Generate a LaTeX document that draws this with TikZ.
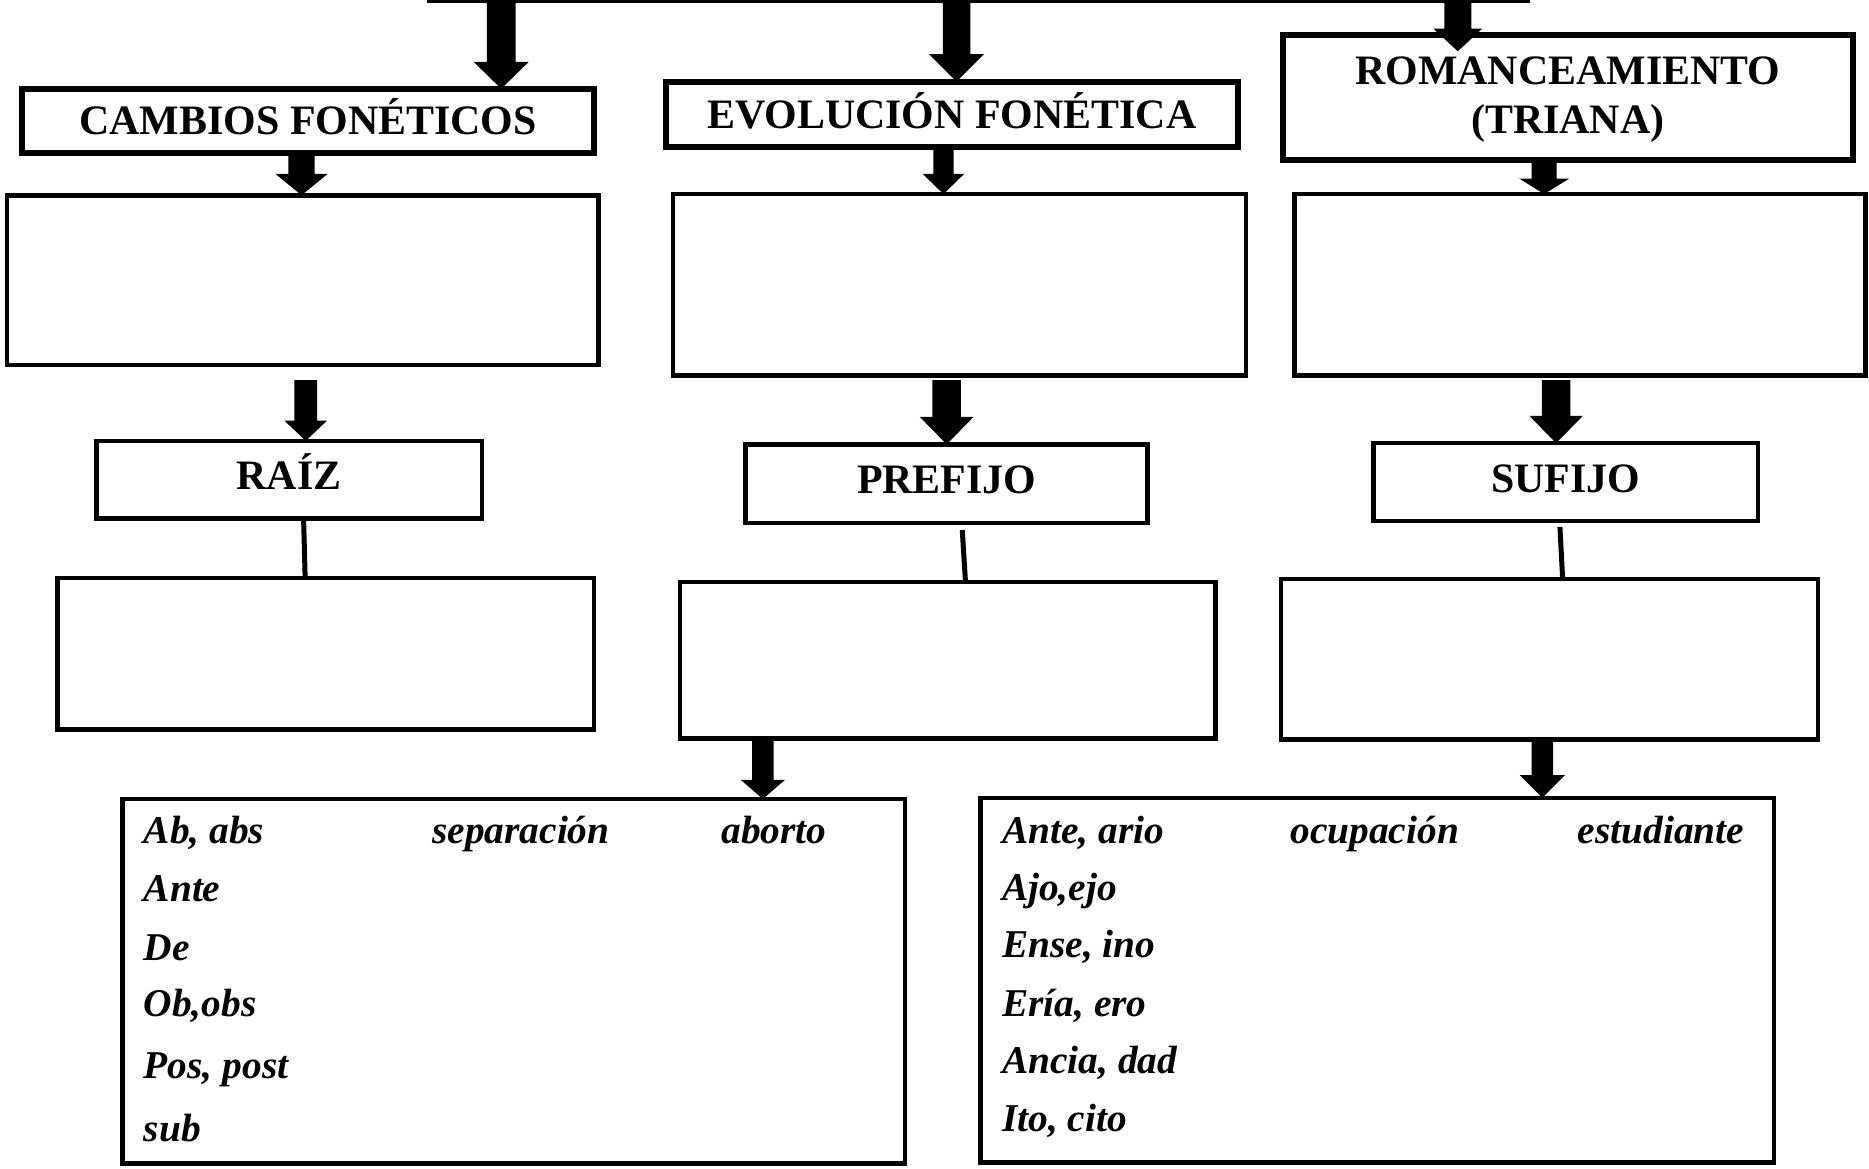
\documentclass[tikz,border=0pt]{standalone}
\usepackage{fontspec}
\setmainfont{Liberation Serif}
\usetikzlibrary{calc}
\tikzset{
  titlebase/.style={draw, line width=0.5mm, inner sep=0pt, outer sep=0pt,
    font=\fontsize{10}{11.7}\selectfont\bfseries},
  title/.style={titlebase, text height=6.6pt, text depth=0pt},
  emptybox/.style={draw, line width=0.38mm, inner sep=0pt, outer sep=0pt},
  labbox/.style={emptybox, font=\fontsize{10}{12}\selectfont\bfseries,
    text height=6.6pt, text depth=1.9pt},
  entry/.style={inner sep=0pt, anchor=base west,
    font=\fontsize{9.4}{11}\selectfont\bfseries\itshape},
  conn/.style={line width=0.42mm},
  topline/.style={line width=0.25mm}
}
% #1 start (only its y is used), #2 tip, #3 shaft half width, #4 head half width, #5 head length
\newcommand\blockarrow[5]{%
  \fill let \p1=(#1), \p2=(#2) in
    (\x2-#3,\y1) -- (\x2+#3,\y1) -- (\x2+#3,\y2+#5) -- (\x2+#4,\y2+#5)
    -- (\x2,\y2) -- (\x2-#4,\y2+#5) -- (\x2-#3,\y2+#5) -- cycle;}
\begin{document}
\begin{tikzpicture}[x=0.1mm, y=-0.1mm]
\useasboundingbox (0,0) rectangle (1568,980);

% top line
\coordinate (tl) at (358,1.2);
\coordinate (tr) at (1284,1.2);
\draw[topline] (tl) -- (tr);

% title boxes
\node[title, minimum width=48mm, minimum height=5.4mm] (cf) at (258.5,101.5) {CAMBIOS FONÉTICOS};
\node[title, minimum width=48mm, minimum height=5.5mm] (ef) at (798.5,96) {EVOLUCIÓN FONÉTICA};
\node[titlebase, align=center, text depth=1pt, minimum width=47.85mm, minimum height=10.45mm] (rt) at (1315.25,81.75) {ROMANCEAMIENTO\\(TRIANA)};

% empty boxes row 1
\node[emptybox, minimum width=49.64mm, minimum height=14.24mm] (b1) at (254,235) {};
\node[emptybox, minimum width=48.04mm, minimum height=15.24mm] (b2) at (805,239) {};
\node[emptybox, minimum width=47.94mm, minimum height=15.24mm] (b3) at (1325.5,239) {};

% label boxes
\node[labbox, minimum width=32.34mm, minimum height=6.54mm] (raiz) at (242.5,402.5) {RAÍZ};
\node[labbox, minimum width=33.74mm, minimum height=6.58mm] (pre) at (794.2,405.7) {PREFIJO};
\node[labbox, minimum width=32.22mm, minimum height=6.54mm] (suf) at (1313.6,404.5) {SUFIJO};

% empty boxes row 2
\node[emptybox, minimum width=44.99mm, minimum height=12.74mm] (b4) at (273.25,548.5) {};
\node[emptybox, minimum width=44.94mm, minimum height=13.12mm] (b5) at (795,554) {};
\node[emptybox, minimum width=45.04mm, minimum height=13.44mm] (b6) at (1300,553) {};

% bottom boxes
\node[emptybox, minimum width=65.64mm, minimum height=30.59mm] (b7) at (431,823.25) {};
\node[emptybox, minimum width=66.54mm, minimum height=30.59mm] (b8) at (1155.5,822.25) {};

% block arrows
\blockarrow{tl}{[xshift=16.2mm]cf.north}{1.2mm}{2.3mm}{2.25mm}
\blockarrow{tl}{[xshift=0.4mm]ef.north}{1.15mm}{2.3mm}{2.3mm}
\blockarrow{tl}{[xshift=-9.225mm,yshift=-1.35mm]rt.north}{1.13mm}{2.05mm}{1.9mm}
\blockarrow{cf.south}{[xshift=-0.1mm]b1.north}{1.1mm}{2.2mm}{1.8mm}
\blockarrow{ef.south}{[xshift=-1.35mm]b2.north}{0.85mm}{1.75mm}{1.7mm}
\blockarrow{rt.south}{[xshift=-3mm]b3.north}{1.05mm}{2.1mm}{1.3mm}
\blockarrow{[yshift=-1.28mm]b1.south}{[xshift=1.4mm]raiz.north}{0.95mm}{1.8mm}{1.7mm}
\blockarrow{[yshift=-0.38mm]b2.south}{pre.north}{1.2mm}{2.25mm}{2.3mm}
\blockarrow{[yshift=-0.38mm]b3.south}{[xshift=-0.81mm]suf.north}{1.2mm}{2.25mm}{2.3mm}
\blockarrow{b5.south}{[xshift=20.9mm]b7.north}{0.9mm}{1.85mm}{1.6mm}
\blockarrow{b6.south}{[xshift=13.85mm]b8.north}{0.9mm}{1.9mm}{1.9mm}

% plain connectors
\draw[conn] ([xshift=1.22mm]raiz.south) -- ([xshift=-1.725mm]b4.north);
\draw[conn] ([xshift=1.31mm,yshift=-0.6mm]pre.south) -- ([xshift=1.5mm]b5.north);
\draw[conn] ([xshift=-0.49mm,yshift=-0.48mm]suf.south) -- ([xshift=1.1mm]b6.north);

% prefix table
\node[entry] (p1a) at (120,708) {Ab, abs};
\node[entry] (p1b) at (362,708) {separación};
\node[entry] (p1c) at (604.5,708) {aborto};
\node[entry] (p2) at (120,756.5) {Ante};
\node[entry] (p3) at (120,805.5) {De};
\node[entry] (p4) at (120,853) {Ob,obs};
\node[entry] (p5) at (120,905) {Pos, post};
\node[entry] (p6) at (120,958) {sub};

% suffix table
\node[entry] (s1a) at (840,707.5) {Ante, ario};
\node[entry] (s1b) at (1082,707.5) {ocupación};
\node[entry] (s1c) at (1323,707.5) {estudiante};
\node[entry] (s2) at (840,755.5) {Ajo,ejo};
\node[entry] (s3) at (840,803.5) {Ense, ino};
\node[entry] (s4) at (840,852.5) {Ería, ero};
\node[entry] (s5) at (840,900.5) {Ancia, dad};
\node[entry] (s6) at (840,949) {Ito, cito};
\end{tikzpicture}
\end{document}
